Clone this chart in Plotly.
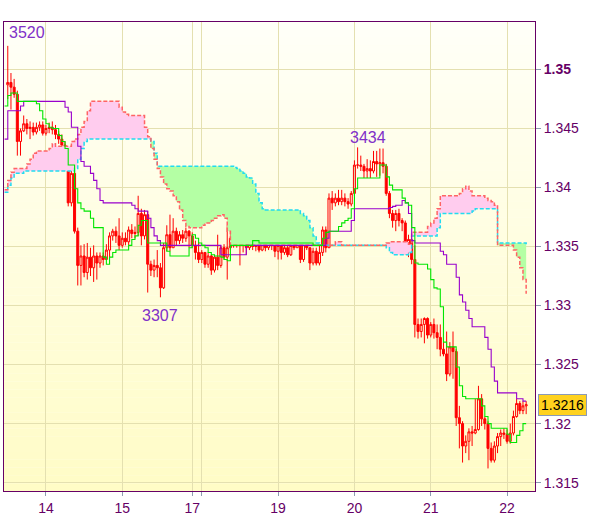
import plotly.graph_objects as go

# ---------------- data ----------------
bar_index = list(range(164))

opens = [1.3487, 1.3489, 1.3485, 1.3479, 1.3439, 1.3448, 1.3454, 1.3450, 1.3451, 1.3447,
         1.3451, 1.3453, 1.3446, 1.3450, 1.3451, 1.3449, 1.3445, 1.3441, 1.3436, 1.3416,
         1.3387, 1.3412, 1.3363, 1.3334, 1.3342, 1.3328, 1.3341, 1.3332, 1.3342, 1.3336,
         1.3342, 1.3339, 1.3347, 1.3359, 1.3363, 1.3359, 1.3351, 1.3357, 1.3354, 1.3364,
         1.3361, 1.3362, 1.3378, 1.3359, 1.3377, 1.3335, 1.3330, 1.3334, 1.3332, 1.3315,
         1.3349, 1.3360, 1.3349, 1.3363, 1.3355, 1.3360, 1.3357, 1.3363, 1.3359, 1.3351,
         1.3345, 1.3339, 1.3345, 1.3335, 1.3342, 1.3330, 1.3341, 1.3334, 1.3349, 1.3341,
         1.3349, 1.3357, 1.3351, 1.3359, 1.3351, 1.3357, 1.3349, 1.3354, 1.3350, 1.3355,
         1.3347, 1.3353, 1.3349, 1.3353, 1.3351, 1.3346, 1.3351, 1.3345, 1.3349, 1.3343,
         1.3351, 1.3349, 1.3357, 1.3339, 1.3353, 1.3349, 1.3336, 1.3346, 1.3336, 1.3345,
         1.3364, 1.3349, 1.3391, 1.3387, 1.3391, 1.3388, 1.3391, 1.3388, 1.3386, 1.3395,
         1.3419, 1.3419, 1.3418, 1.3414, 1.3416, 1.3414, 1.3422, 1.3420, 1.3421, 1.3418,
         1.3395, 1.3378, 1.3372, 1.3378, 1.3372, 1.3370, 1.3349, 1.3356, 1.3339, 1.3284,
         1.3278, 1.3284, 1.3289, 1.3275, 1.3284, 1.3277, 1.3273, 1.3263, 1.3259, 1.3242,
         1.3265, 1.3261, 1.3205, 1.3200, 1.3181, 1.3185, 1.3193, 1.3192, 1.3195, 1.3221,
         1.3204, 1.3200, 1.3179, 1.3169, 1.3181, 1.3189, 1.3192, 1.3191, 1.3185, 1.3192,
         1.3206, 1.3217, 1.3211, 1.3215]

highs = [1.3520, 1.3497, 1.3492, 1.3482, 1.3450, 1.3461, 1.3458, 1.3456, 1.3455, 1.3455,
         1.3456, 1.3456, 1.3453, 1.3455, 1.3456, 1.3453, 1.3448, 1.3445, 1.3439, 1.3420,
         1.3414, 1.3414, 1.3366, 1.3351, 1.3352, 1.3353, 1.3349, 1.3351, 1.3345, 1.3345,
         1.3345, 1.3352, 1.3362, 1.3365, 1.3367, 1.3374, 1.3362, 1.3362, 1.3367, 1.3369,
         1.3367, 1.3393, 1.3382, 1.3381, 1.3380, 1.3338, 1.3339, 1.3347, 1.3336, 1.3353,
         1.3368, 1.3377, 1.3374, 1.3366, 1.3363, 1.3364, 1.3366, 1.3364, 1.3362, 1.3355,
         1.3354, 1.3347, 1.3345, 1.3345, 1.3343, 1.3343, 1.3360, 1.3351, 1.3352, 1.3368,
         1.3364, 1.3362, 1.3363, 1.3366, 1.3363, 1.3364, 1.3359, 1.3357, 1.3360, 1.3357,
         1.3357, 1.3355, 1.3357, 1.3366, 1.3360, 1.3357, 1.3353, 1.3352, 1.3351, 1.3357,
         1.3357, 1.3366, 1.3359, 1.3372, 1.3372, 1.3349, 1.3349, 1.3349, 1.3351, 1.3367,
         1.3367, 1.3395, 1.3397, 1.3395, 1.3398, 1.3398, 1.3395, 1.3391, 1.3397, 1.3423,
         1.3434, 1.3427, 1.3420, 1.3424, 1.3423, 1.3431, 1.3431, 1.3433, 1.3433, 1.3420,
         1.3397, 1.3381, 1.3381, 1.3382, 1.3374, 1.3372, 1.3360, 1.3357, 1.3351, 1.3289,
         1.3289, 1.3290, 1.3290, 1.3286, 1.3289, 1.3284, 1.3284, 1.3276, 1.3278, 1.3269,
         1.3278, 1.3263, 1.3215, 1.3202, 1.3190, 1.3196, 1.3198, 1.3221, 1.3232, 1.3225,
         1.3206, 1.3202, 1.3184, 1.3185, 1.3192, 1.3195, 1.3196, 1.3195, 1.3200, 1.3211,
         1.3221, 1.3219, 1.3219, 1.3219]

lows = [1.3475, 1.3466, 1.3476, 1.3427, 1.3427, 1.3447, 1.3445, 1.3441, 1.3444, 1.3445,
        1.3448, 1.3444, 1.3444, 1.3446, 1.3445, 1.3441, 1.3437, 1.3433, 1.3414, 1.3384,
        1.3384, 1.3361, 1.3317, 1.3317, 1.3324, 1.3322, 1.3325, 1.3320, 1.3322, 1.3332,
        1.3334, 1.3339, 1.3341, 1.3355, 1.3353, 1.3347, 1.3349, 1.3351, 1.3351, 1.3357,
        1.3357, 1.3359, 1.3351, 1.3356, 1.3311, 1.3325, 1.3324, 1.3324, 1.3307, 1.3314,
        1.3346, 1.3346, 1.3349, 1.3351, 1.3352, 1.3353, 1.3354, 1.3349, 1.3349, 1.3339,
        1.3336, 1.3336, 1.3332, 1.3332, 1.3326, 1.3328, 1.3330, 1.3332, 1.3339, 1.3322,
        1.3347, 1.3349, 1.3349, 1.3334, 1.3345, 1.3343, 1.3347, 1.3347, 1.3346, 1.3345,
        1.3346, 1.3346, 1.3347, 1.3347, 1.3341, 1.3339, 1.3339, 1.3343, 1.3341, 1.3342,
        1.3347, 1.3349, 1.3336, 1.3337, 1.3347, 1.3330, 1.3334, 1.3334, 1.3334, 1.3342,
        1.3345, 1.3349, 1.3381, 1.3384, 1.3385, 1.3385, 1.3384, 1.3382, 1.3384, 1.3393,
        1.3416, 1.3414, 1.3408, 1.3408, 1.3408, 1.3412, 1.3409, 1.3410, 1.3412, 1.3393,
        1.3374, 1.3366, 1.3363, 1.3367, 1.3363, 1.3343, 1.3341, 1.3335, 1.3273, 1.3272,
        1.3273, 1.3268, 1.3272, 1.3273, 1.3272, 1.3263, 1.3257, 1.3257, 1.3236, 1.3240,
        1.3238, 1.3198, 1.3179, 1.3167, 1.3175, 1.3169, 1.3181, 1.3191, 1.3194, 1.3198,
        1.3195, 1.3162, 1.3167, 1.3167, 1.3175, 1.3181, 1.3187, 1.3183, 1.3183, 1.3190,
        1.3205, 1.3208, 1.3208, 1.3208]

closes = [1.3489, 1.3485, 1.3479, 1.3439, 1.3448, 1.3454, 1.3450, 1.3451, 1.3447, 1.3451,
          1.3453, 1.3446, 1.3450, 1.3451, 1.3449, 1.3445, 1.3441, 1.3436, 1.3416, 1.3387,
          1.3412, 1.3363, 1.3334, 1.3342, 1.3328, 1.3341, 1.3332, 1.3342, 1.3336, 1.3342,
          1.3339, 1.3347, 1.3359, 1.3363, 1.3359, 1.3351, 1.3357, 1.3354, 1.3364, 1.3361,
          1.3362, 1.3378, 1.3359, 1.3377, 1.3335, 1.3330, 1.3334, 1.3332, 1.3315, 1.3349,
          1.3360, 1.3349, 1.3363, 1.3355, 1.3360, 1.3357, 1.3363, 1.3359, 1.3351, 1.3345,
          1.3339, 1.3345, 1.3335, 1.3342, 1.3330, 1.3341, 1.3334, 1.3349, 1.3341, 1.3349,
          1.3357, 1.3351, 1.3359, 1.3351, 1.3357, 1.3349, 1.3354, 1.3350, 1.3355, 1.3347,
          1.3353, 1.3349, 1.3353, 1.3351, 1.3346, 1.3351, 1.3345, 1.3349, 1.3343, 1.3351,
          1.3349, 1.3357, 1.3339, 1.3353, 1.3349, 1.3336, 1.3346, 1.3336, 1.3345, 1.3364,
          1.3349, 1.3391, 1.3387, 1.3391, 1.3388, 1.3391, 1.3388, 1.3386, 1.3395, 1.3419,
          1.3419, 1.3418, 1.3414, 1.3416, 1.3414, 1.3422, 1.3420, 1.3421, 1.3418, 1.3395,
          1.3378, 1.3372, 1.3378, 1.3372, 1.3370, 1.3349, 1.3356, 1.3339, 1.3284, 1.3278,
          1.3284, 1.3289, 1.3275, 1.3284, 1.3277, 1.3273, 1.3263, 1.3259, 1.3242, 1.3265,
          1.3261, 1.3205, 1.3200, 1.3181, 1.3185, 1.3193, 1.3192, 1.3195, 1.3221, 1.3204,
          1.3200, 1.3179, 1.3169, 1.3181, 1.3189, 1.3192, 1.3191, 1.3185, 1.3192, 1.3206,
          1.3217, 1.3211, 1.3215, 1.3216]

tenkan_x = [-1, 0, 1, 3, 9, 10, 11, 12, 13, 14,
            16, 17, 18, 19, 21, 22, 23, 24, 26, 27,
            30, 31, 32, 33, 34, 38, 39, 40, 41, 42,
            44, 50, 51, 57, 58, 59, 60, 61, 62, 63,
            64, 65, 67, 68, 69, 70, 77, 79, 96, 99,
            100, 101, 104, 105, 106, 107, 108, 109, 110, 117,
            119, 120, 121, 124, 125, 126, 127, 128, 129, 132,
            133, 134, 135, 136, 137, 138, 141, 142, 143, 144,
            149, 150, 151, 152, 157, 158, 160, 161, 162, 163]
tenkan_y = [1.3469, 1.3478, 1.3480, 1.3473, 1.3471, 1.3465, 1.3458, 1.3454, 1.3451, 1.3450,
            1.3444, 1.3439, 1.3433, 1.3419, 1.3399, 1.3387, 1.3382, 1.3380, 1.3374, 1.3366,
            1.3341, 1.3335, 1.3341, 1.3345, 1.3347, 1.3351, 1.3356, 1.3359, 1.3368, 1.3372,
            1.3353, 1.3346, 1.3342, 1.3349, 1.3360, 1.3357, 1.3353, 1.3351, 1.3349, 1.3345,
            1.3343, 1.3342, 1.3341, 1.3339, 1.3338, 1.3351, 1.3355, 1.3353, 1.3351, 1.3357,
            1.3362, 1.3363, 1.3367, 1.3370, 1.3372, 1.3374, 1.3382, 1.3399, 1.3408, 1.3419,
            1.3409, 1.3402, 1.3398, 1.3391, 1.3387, 1.3385, 1.3366, 1.3336, 1.3335, 1.3331,
            1.3322, 1.3315, 1.3314, 1.3299, 1.3269, 1.3265, 1.3248, 1.3232, 1.3223, 1.3221,
            1.3215, 1.3206, 1.3200, 1.3196, 1.3191, 1.3184, 1.3190, 1.3194, 1.3200, 1.3200]

kijun_x = [-1, 0, 4, 5, 18, 19, 20, 22, 23, 24,
           26, 27, 28, 29, 30, 39, 40, 41, 44, 45,
           46, 47, 48, 67, 75, 100, 101, 108, 109, 120,
           121, 122, 124, 125, 126, 127, 128, 136, 137, 138,
           141, 142, 143, 144, 145, 146, 150, 151, 152, 153,
           154, 160, 162, 163]
kijun_y = [1.3441, 1.3465, 1.3469, 1.3473, 1.3468, 1.3464, 1.3451, 1.3435, 1.3422, 1.3418,
           1.3412, 1.3406, 1.3399, 1.3389, 1.3387, 1.3385, 1.3382, 1.3380, 1.3374, 1.3366,
           1.3359, 1.3355, 1.3351, 1.3343, 1.3351, 1.3357, 1.3363, 1.3372, 1.3382, 1.3383,
           1.3384, 1.3385, 1.3389, 1.3387, 1.3378, 1.3355, 1.3353, 1.3346, 1.3343, 1.3335,
           1.3324, 1.3309, 1.3303, 1.3296, 1.3289, 1.3282, 1.3273, 1.3263, 1.3248, 1.3236,
           1.3226, 1.3221, 1.3219, 1.3219]

cloud_x = [-1, 0, 1, 2, 5, 6, 7, 8, 9, 13,
           14, 15, 19, 20, 21, 22, 23, 24, 25, 26,
           35, 36, 37, 38, 43, 44, 45, 46, 47, 48,
           49, 50, 51, 52, 53, 54, 55, 56, 57, 61,
           62, 64, 65, 66, 67, 68, 69, 70, 71, 72,
           73, 74, 75, 76, 77, 78, 79, 80, 81, 92,
           93, 94, 95, 96, 97, 98, 103, 105, 119, 120,
           121, 126, 127, 132, 133, 134, 135, 136, 142, 143,
           144, 145, 146, 147, 150, 151, 152, 153, 154, 159,
           160, 161, 162, 163]
span_red = [1.3398, 1.3406, 1.3413, 1.3416, 1.3416, 1.3420, 1.3424, 1.3429, 1.3431, 1.3433,
            1.3437, 1.3435, 1.3435, 1.3439, 1.3441, 1.3445, 1.3451, 1.3456, 1.3465, 1.3473,
            1.3468, 1.3464, 1.3462, 1.3461, 1.3451, 1.3443, 1.3433, 1.3424, 1.3416, 1.3409,
            1.3403, 1.3399, 1.3397, 1.3393, 1.3388, 1.3381, 1.3372, 1.3367, 1.3366, 1.3368,
            1.3370, 1.3372, 1.3374, 1.3376, 1.3377, 1.3374, 1.3363, 1.3351, 1.3351, 1.3351,
            1.3351, 1.3351, 1.3351, 1.3351, 1.3351, 1.3351, 1.3351, 1.3351, 1.3351, 1.3351,
            1.3351, 1.3351, 1.3351, 1.3351, 1.3351, 1.3351, 1.3354, 1.3351, 1.3353, 1.3354,
            1.3354, 1.3352, 1.3362, 1.3367, 1.3370, 1.3374, 1.3382, 1.3393, 1.3395, 1.3399,
            1.3401, 1.3397, 1.3393, 1.3393, 1.3391, 1.3389, 1.3388, 1.3385, 1.3351, 1.3347,
            1.3341, 1.3332, 1.3322, 1.3310]
span_cyan = [1.3396, 1.3402, 1.3408, 1.3412, 1.3414, 1.3414, 1.3414, 1.3414, 1.3414, 1.3414,
             1.3414, 1.3414, 1.3414, 1.3414, 1.3416, 1.3424, 1.3433, 1.3439, 1.3441, 1.3441,
             1.3441, 1.3441, 1.3441, 1.3441, 1.3441, 1.3441, 1.3439, 1.3429, 1.3418, 1.3418,
             1.3418, 1.3418, 1.3418, 1.3418, 1.3418, 1.3418, 1.3418, 1.3418, 1.3418, 1.3418,
             1.3418, 1.3418, 1.3418, 1.3418, 1.3418, 1.3418, 1.3418, 1.3418, 1.3417, 1.3416,
             1.3414, 1.3412, 1.3409, 1.3408, 1.3403, 1.3395, 1.3387, 1.3382, 1.3381, 1.3378,
             1.3376, 1.3372, 1.3366, 1.3359, 1.3353, 1.3351, 1.3351, 1.3351, 1.3349, 1.3345,
             1.3343, 1.3345, 1.3359, 1.3359, 1.3359, 1.3359, 1.3366, 1.3378, 1.3378, 1.3378,
             1.3378, 1.3378, 1.3380, 1.3382, 1.3382, 1.3382, 1.3382, 1.3382, 1.3353, 1.3353,
             1.3353, 1.3353, 1.3353, 1.3351]

day_tick_index = [12, 36, 58, 61, 85, 109, 133, 157]
day_tick_label = ['14', '15', '17', '', '19', '20', '21', '22']

price_ticks = [1.315, 1.32, 1.325, 1.33, 1.335, 1.34, 1.345, 1.35]
price_tick_labels = ['1.315', '1.32', '1.325', '1.33', '1.335', '1.34', '1.345', '<b>1.35</b>']

pivot_index = [0, 48, 110]
pivot_side = ['high', 'low', 'high']

# ---------------- figure ----------------
FONT = 'Liberation Sans, Arial, sans-serif'
AXIS_COL = '#660066'
GRID_COL = '#e4e0b0'

fig = go.Figure()

upper = [max(a, b) for a, b in zip(span_red, span_cyan)]
# pink part of the cloud (red span above cyan span)
fig.add_trace(go.Scatter(x=cloud_x, y=span_cyan, mode='lines',
                         line=dict(width=0, shape='hv'), hoverinfo='skip'))
fig.add_trace(go.Scatter(x=cloud_x, y=upper, mode='lines', fill='tonexty',
                         fillcolor='#ffccee', line=dict(width=0, shape='hv'), hoverinfo='skip'))
# green part of the cloud (cyan span above red span)
fig.add_trace(go.Scatter(x=cloud_x, y=span_red, mode='lines',
                         line=dict(width=0, shape='hv'), hoverinfo='skip'))
fig.add_trace(go.Scatter(x=cloud_x, y=upper, mode='lines', fill='tonexty',
                         fillcolor='#b4ffa4', line=dict(width=0, shape='hv'), hoverinfo='skip'))
# span borders
fig.add_trace(go.Scatter(x=cloud_x, y=span_cyan, mode='lines',
                         line=dict(color='#22dcf0', width=1.5, dash='4px,2px', shape='hv'),
                         hoverinfo='skip'))
fig.add_trace(go.Scatter(x=cloud_x, y=span_red, mode='lines',
                         line=dict(color='#ff6464', width=1.5, dash='4px,2px', shape='hv'),
                         hoverinfo='skip'))

# candles
fig.add_trace(go.Candlestick(
    x=bar_index, open=opens, high=highs, low=lows, close=closes,
    increasing=dict(line=dict(color='#ff0000', width=1), fillcolor='rgba(255,255,255,0)'),
    decreasing=dict(line=dict(color='#ff0000', width=1), fillcolor='#ff0000'),
    whiskerwidth=0, hoverinfo='skip'))

# kijun / tenkan
fig.add_trace(go.Scatter(x=kijun_x, y=kijun_y, mode='lines',
                         line=dict(color='#9900cc', width=1.1, shape='hv'), hoverinfo='skip'))
fig.add_trace(go.Scatter(x=tenkan_x, y=tenkan_y, mode='lines',
                         line=dict(color='#00e600', width=1.1, shape='hv'), hoverinfo='skip'))

# background gradient
shapes = []
N = 60
top = (255, 255, 248)
bot = (255, 252, 198)
for k in range(N):
    t = (k + 0.5) / N
    c = tuple(int(round(bot[j] + (top[j] - bot[j]) * t)) for j in range(3))
    shapes.append(dict(type='rect', xref='paper', yref='paper', x0=0, x1=1,
                       y0=k / N, y1=(k + 1) / N, line=dict(width=0),
                       fillcolor='rgb(%d,%d,%d)' % c, layer='below'))

annotations = []
pivot_offsets = {0: (19, 13), 1: (0, -18), 2: (10, 10)}
for n, (idx, side) in enumerate(zip(pivot_index, pivot_side)):
    val = highs[idx] if side == 'high' else lows[idx]
    dx, dy = pivot_offsets[n]
    annotations.append(dict(x=idx, y=val, xref='x', yref='y', showarrow=False,
                            text=str(int(round(val * 10000)) % 10000),
                            font=dict(family=FONT, size=16, color='#8030c8'),
                            xshift=dx, yshift=dy))

annotations.append(dict(x=1, xref='paper', y=closes[-1], yref='y', xanchor='left',
                        xshift=3, showarrow=False, text='%.4f' % closes[-1],
                        bgcolor='#ffd21e', bordercolor='#8a9ab8', borderwidth=1, borderpad=2,
                        font=dict(family=FONT, size=14, color='#000000')))

fig.update_layout(
    width=600, height=519,
    margin=dict(l=3, r=65, t=22, b=23),
    paper_bgcolor='#ffffff', plot_bgcolor='#ffffef',
    showlegend=False, boxgap=0.1,
    shapes=shapes, annotations=annotations,
    xaxis=dict(range=[-1.19, 165.78], tickmode='array', tickvals=day_tick_index,
               ticktext=day_tick_label, showgrid=True, gridcolor=GRID_COL, gridwidth=1,
               ticks='outside', ticklen=4, tickcolor='#8c9cb0', showline=True, mirror=True,
               linecolor=AXIS_COL, linewidth=1, zeroline=False,
               rangeslider=dict(visible=False),
               tickfont=dict(family=FONT, size=14, color=AXIS_COL)),
    yaxis=dict(range=[1.31429, 1.35402], side='right', tickmode='array',
               tickvals=price_ticks, ticktext=price_tick_labels, showgrid=True,
               gridcolor=GRID_COL, gridwidth=1, ticks='outside', ticklen=5,
               tickcolor='#8c9cb0', showline=True, mirror=True, linecolor=AXIS_COL,
               linewidth=1, zeroline=False,
               tickfont=dict(family=FONT, size=14, color=AXIS_COL)),
)

fig.write_html('out.html', config={'displayModeBar': False},
               post_script="document.body.style.margin='0';document.body.style.padding='0';")
